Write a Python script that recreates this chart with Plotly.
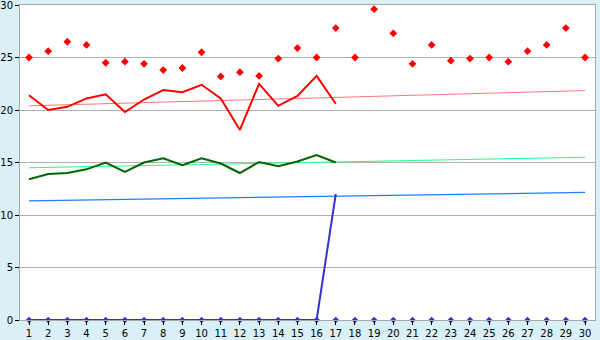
import plotly.graph_objects as go

x_all = list(range(1, 31))
x_part = list(range(1, 18))

red_points = [25.0, 25.6, 26.5, 26.2, 24.5, 24.6, 24.4, 23.8, 24.0, 25.5,
              23.2, 23.6, 23.25, 24.9, 25.9, 25.0, 27.8, 25.0, 29.6, 27.3,
              24.4, 26.2, 24.7, 24.9, 25.0, 24.6, 25.6, 26.2, 27.8, 25.0]
red_line = [21.4, 20.0, 20.3, 21.1, 21.5, 19.8, 21.0, 21.9, 21.7, 22.4,
            21.1, 18.1, 22.5, 20.4, 21.35, 23.25, 20.6]
green_line = [13.4, 13.9, 14.0, 14.35, 15.0, 14.1, 15.0, 15.4, 14.75, 15.4,
              14.9, 14.0, 15.05, 14.65, 15.1, 15.7, 15.0]
blue_line = [0, 0, 0, 0, 0, 0, 0, 0, 0, 0, 0, 0, 0, 0, 0, 0, 12.0]
zero_marks = [0] * 30

trend_x = [1, 30]
red_trend = [20.4, 21.85]
green_trend = [14.5, 15.5]
blue_trend = [11.35, 12.15]

fig = go.Figure()
fig.add_trace(go.Scatter(x=trend_x, y=red_trend, mode="lines",
                         line=dict(color="#FF7878", width=1)))
fig.add_trace(go.Scatter(x=trend_x, y=green_trend, mode="lines",
                         line=dict(color="#22FF88", width=1)))
fig.add_trace(go.Scatter(x=trend_x, y=blue_trend, mode="lines",
                         line=dict(color="#1E7FFF", width=1.3)))
fig.add_trace(go.Scatter(x=x_part, y=green_line, mode="lines",
                         line=dict(color="#006600", width=2)))
fig.add_trace(go.Scatter(x=x_part, y=red_line, mode="lines",
                         line=dict(color="#FF0000", width=2)))
fig.add_trace(go.Scatter(x=x_part, y=blue_line, mode="lines",
                         line=dict(color="#3333CC", width=2), cliponaxis=False))
fig.add_trace(go.Scatter(x=x_all, y=zero_marks, mode="markers",
                         marker=dict(color="#3333CC", size=5, symbol="diamond"),
                         cliponaxis=False))
fig.add_trace(go.Scatter(x=x_all, y=red_points, mode="markers",
                         marker=dict(color="#FF0000", size=6, symbol="diamond")))

fig.update_layout(
    width=600, height=340,
    margin=dict(l=20, r=5, t=5, b=20),
    paper_bgcolor="#DAF0F7",
    plot_bgcolor="#FFFFFF",
    showlegend=False,
    font=dict(family="DejaVu Sans", size=10, color="#000000"),
)
fig.update_xaxes(
    range=[0.53, 30.52], tickmode="array", tickvals=x_all,
    ticktext=[str(v) for v in x_all], automargin=False,
    ticklabeloverflow="allow",
    showgrid=False, zeroline=False,
    showline=True, linecolor="#A8A8A8", linewidth=1, mirror=True,
    ticks="outside", ticklen=4, tickcolor="#000000",
)
fig.update_yaxes(
    range=[0, 30], tickvals=[0, 5, 10, 15, 20, 25, 30], automargin=False,
    ticklabeloverflow="allow",
    showgrid=True, gridcolor="#B0B0B0", gridwidth=1, zeroline=False,
    showline=True, linecolor="#A8A8A8", linewidth=1, mirror=True,
    ticks="outside", ticklen=4, tickcolor="#000000",
)

fig.write_html("out.html")
